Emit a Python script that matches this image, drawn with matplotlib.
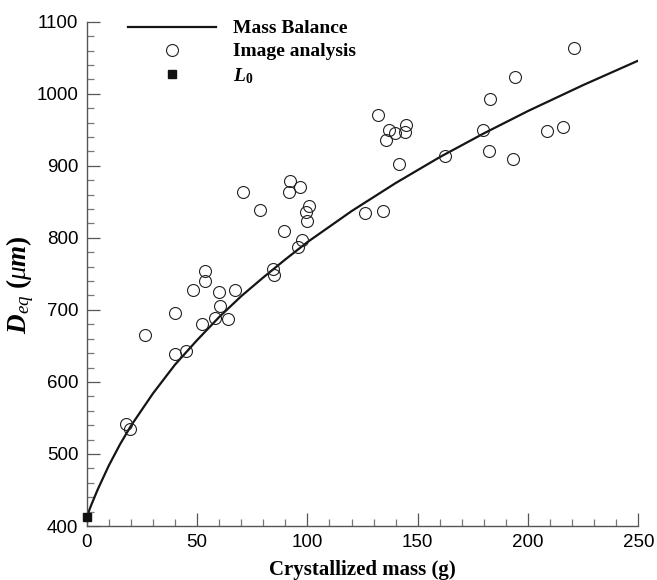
import matplotlib
matplotlib.use("Agg")
import matplotlib.pyplot as plt
from matplotlib.ticker import MultipleLocator

plt.rcParams['mathtext.fontset'] = 'custom'
plt.rcParams['mathtext.rm'] = 'Liberation Serif:bold'
plt.rcParams['mathtext.it'] = 'Liberation Serif:italic'
plt.rcParams['mathtext.bf'] = 'Liberation Serif:bold'
plt.rcParams['mathtext.bfit'] = 'Liberation Serif:italic:bold'

# image analysis points (crystallized mass in g, D_eq in um)
mass_img = [17.7, 19.8, 26.6, 40.1, 40.1, 45.2, 48.2, 53.6, 53.4, 52.4,
            60.0, 60.5, 58.2, 63.9, 67.2, 70.8, 78.5, 84.2, 84.8, 89.3,
            92.0, 91.6, 96.8, 95.6, 97.7, 99.5, 100.6, 99.7, 125.9, 132.1,
            134.3, 137.0, 135.5, 139.9, 144.6, 144.2, 141.7, 162.6, 179.7, 182.7,
            182.5, 194.0, 193.0, 208.5, 216.1, 220.9]
deq_img = [541, 534, 665, 695, 639, 643, 727, 754, 740, 680,
           725, 705, 689, 688, 728, 864, 838, 757, 748, 809,
           879, 864, 870, 787, 797, 836, 844, 823, 835, 970,
           837, 949, 936, 946, 957, 947, 902, 914, 950, 993,
           921, 1023, 910, 948, 954, 1063]

# mass balance curve
mass_mb = [0, 2, 5, 10, 15, 20, 30, 40, 50, 60, 70, 80, 90, 100,
           120, 140, 160, 180, 200, 225, 250]
deq_mb = [413, 429, 451, 484, 513, 539, 584, 624, 658, 690, 719, 745, 770, 794,
          837, 876, 912, 945, 976, 1012, 1046]

# initial size
mass_l0 = [0]
deq_l0 = [413]

fig = plt.figure(figsize=(6.57, 5.80), dpi=100)
ax = fig.add_axes([0.1321, 0.0931, 0.8394, 0.8695])

line, = ax.plot(mass_mb, deq_mb, '-', color='#151515', lw=1.6, zorder=2)
pts, = ax.plot(mass_img, deq_img, 'o', ms=8.6, mfc='none', mec='#222222', mew=0.8, zorder=3)
sq, = ax.plot(mass_l0, deq_l0, 's', ms=6, color='#111111', zorder=4, clip_on=False)

ax.set_xlim(0, 250)
ax.set_ylim(400, 1100)
ax.xaxis.set_major_locator(MultipleLocator(50))
ax.xaxis.set_minor_locator(MultipleLocator(10))
ax.yaxis.set_major_locator(MultipleLocator(100))
ax.yaxis.set_minor_locator(MultipleLocator(20))

for loc in ['top', 'right']:
    ax.spines[loc].set_visible(False)
for loc in ['left', 'bottom']:
    ax.spines[loc].set_color('#555555')
    ax.spines[loc].set_linewidth(1.0)

ax.tick_params(which='major', direction='in', length=9.5, width=0.9, color='#555555',
               labelsize=13.5, pad=6)
ax.tick_params(which='minor', direction='in', length=5, width=0.9, color='#777777')
for lab in ax.get_xticklabels() + ax.get_yticklabels():
    lab.set_fontfamily('Liberation Sans')

ax.set_xlabel('Crystallized mass (g)', fontfamily='Liberation Serif', fontweight='bold',
              fontsize=15, labelpad=6)
ax.set_ylabel(r'$\mathbfit{D}_{\mathit{eq}}\ \mathrm{(}\mu\mathbfit{m}\mathrm{)}$',
              fontsize=19.5)
ax.yaxis.set_label_coords(-0.092, 0.478)

leg = ax.legend([line, pts, sq], ['Mass Balance', 'Image analysis', r'$\mathbfit{L}_{\mathit{0}}$'],
                loc='upper left', bbox_to_anchor=(0.058, 1.023), frameon=False,
                handlelength=4.5, handletextpad=0.88, labelspacing=0.28, borderpad=0,
                prop={'family': 'Liberation Serif', 'weight': 'bold', 'size': 14})

fig.savefig('out.png', dpi=100)
